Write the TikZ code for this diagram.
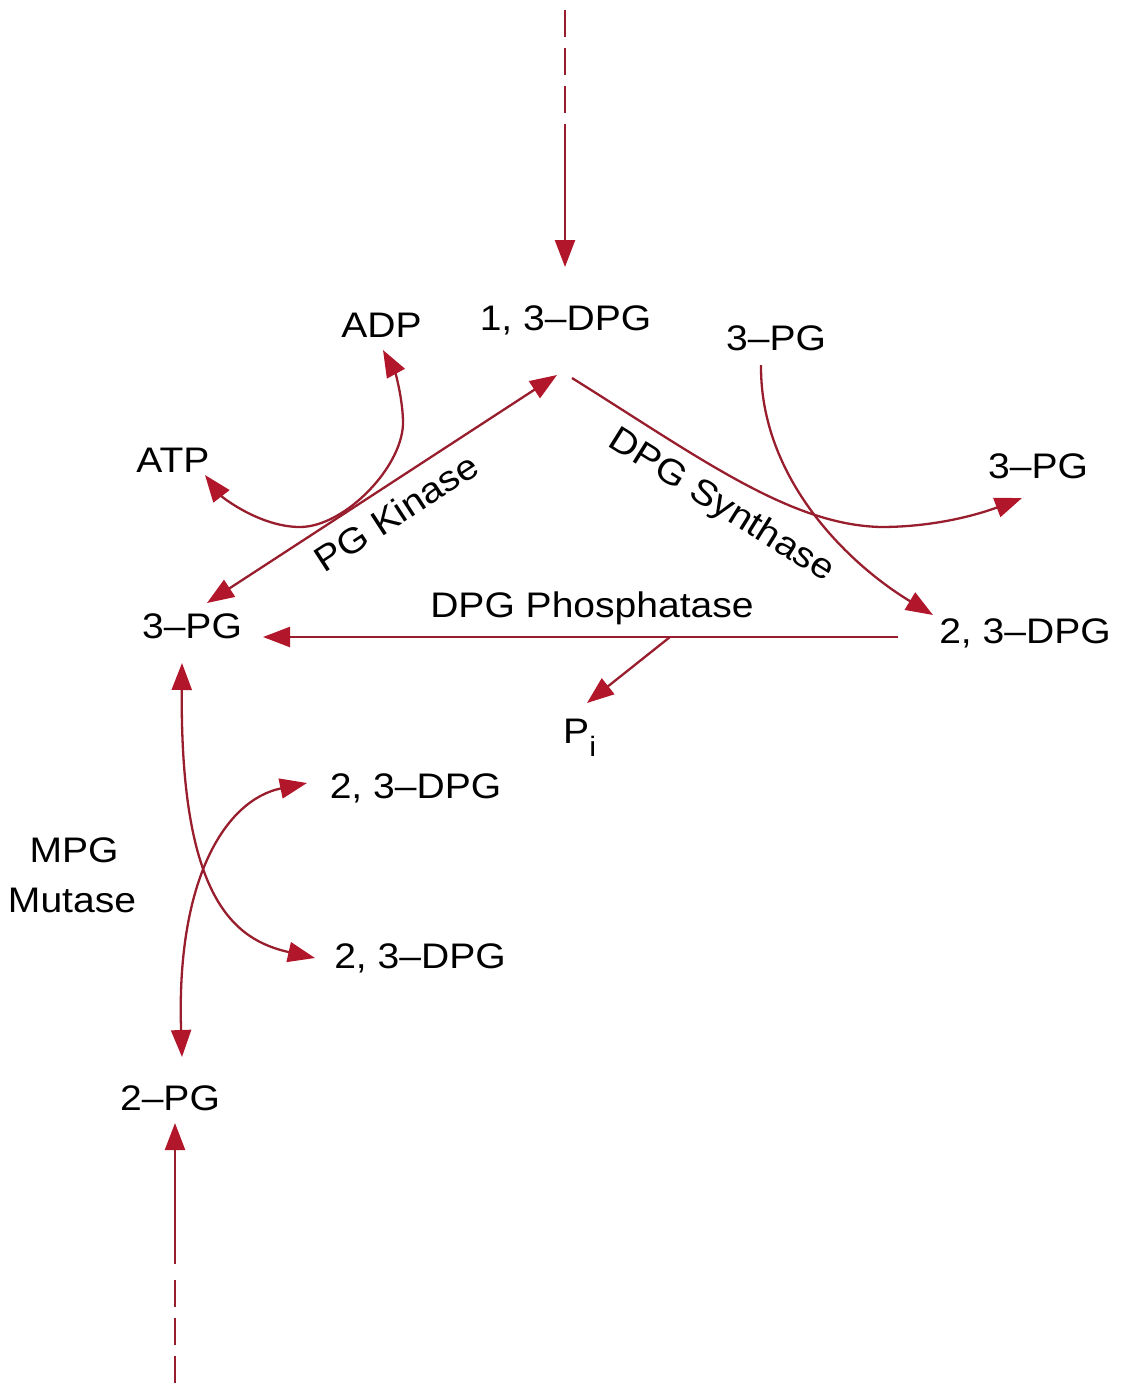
\documentclass[tikz,border=0pt]{standalone}
\usepackage{fontspec}
\setmainfont{Liberation Sans}[FakeStretch=1.1]
\usetikzlibrary{arrows.meta}
\definecolor{rxn}{RGB}{152,30,46}
\definecolor{tipred}{RGB}{178,22,42}
\begin{document}
\begin{tikzpicture}[x=1pt,y=-1pt,
  lbl/.style={inner sep=0pt, font=\fontsize{35.5}{40}\selectfont, text=black},
  rx/.style={draw=rxn, line width=2.3pt},
  dashline/.style={rx, dash pattern=on 27pt off 11pt},
  >={Triangle[length=27pt,width=20pt,color=tipred]}]
\useasboundingbox (0,0) rectangle (1121,1384);

% labels
\node[lbl, anchor=base] (dpg13) at (565.5,330) {1, 3–DPG};
\node[lbl, anchor=base] (adp) at (381.5,337) {ADP};
\node[lbl, anchor=base] (pg3top) at (776,350) {3–PG};
\node[lbl, anchor=base] (atp) at (173,472) {ATP};
\node[lbl, anchor=base] (pg3right) at (1038,478) {3–PG};
\node[lbl, anchor=base, rotate=33] (kinase) at (403,523) {PG Kinase};
\node[lbl, anchor=base, rotate=-32] (synthase) at (716,514) {DPG Synthase};
\node[lbl, anchor=base] (pg3left) at (192,638) {3–PG};
\node[lbl, anchor=base] (phosphatase) at (592,617) {DPG Phosphatase};
\node[lbl, anchor=base] (dpg23right) at (1025,643) {2, 3–DPG};
\node[lbl, anchor=base west] (pi) at (563,743) {P\raisebox{-13pt}{\fontsize{28}{30}\selectfont i}};
\node[lbl, anchor=base] (dpg23mid) at (415.5,798) {2, 3–DPG};
\node[lbl, anchor=base] (dpg23low) at (420,968) {2, 3–DPG};
\node[lbl, anchor=base] (mpg) at (74,862) {MPG};
\node[lbl, anchor=base] (mutase) at (72,912) {Mutase};
\node[lbl, anchor=base] (pg2) at (170,1110) {2–PG};

% connector end points
\coordinate (topStart) at (565,10);
\coordinate (topDash) at (565,113);
\coordinate (topSolid) at (565,124);
\coordinate (topTip) at (565,267);
\coordinate (kinTop) at (557,375);
\coordinate (kinBot) at (207,603);
\coordinate (atpTip) at (205,475);
\coordinate (atpLow) at (300,527);
\coordinate (adpMid) at (403,420);
\coordinate (adpTip) at (383,350);
\coordinate (synStart) at (572,378);
\coordinate (synBend) at (881,527);
\coordinate (pg3rTip) at (1022,498);
\coordinate (pg3tStart) at (761,365);
\coordinate (dpg23rTip) at (933,615);
\coordinate (phosR) at (898,637);
\coordinate (phosL) at (263,637);
\coordinate (phosBr) at (670,637);
\coordinate (piTip) at (587,703);
\coordinate (mutTop) at (182,663);
\coordinate (dpgLowTip) at (315,958);
\coordinate (mutBot) at (182,1057);
\coordinate (dpgMidTip) at (307,783);
\coordinate (botTip) at (175,1123);
\coordinate (botSolid) at (175,1264);
\coordinate (botDash) at (175,1277);
\coordinate (botEnd) at (175,1383);

% incoming from top
\draw[dashline] (topStart) -- (topDash);
\draw[rx,->] (topSolid) -- (topTip);

% PG kinase
\draw[rx,<->] (kinTop) -- (kinBot);
\draw[rx,<->] (atpTip) .. controls (222,497) and (260,527) .. (atpLow)
   .. controls (345,527) and (405,465) .. (adpMid)
   .. controls (402,395) and (395,372) .. (adpTip);

% DPG synthase
\draw[rx,->] (synStart) .. controls (700,458) and (790,525) .. (synBend)
   .. controls (940,527) and (985,512) .. (pg3rTip);
\draw[rx,->] (pg3tStart) .. controls (760,480) and (850,565) .. (dpg23rTip);

% DPG phosphatase
\draw[rx,->] (phosR) -- (phosL);
\draw[rx,->] (phosBr) -- (piTip);

% MPG mutase
\draw[rx,<->] (mutTop) .. controls (180,900) and (235,940) .. (dpgLowTip);
\draw[rx,<->] (mutBot) .. controls (176,880) and (225,800) .. (dpgMidTip);

% incoming from bottom
\draw[rx,->] (botSolid) -- (botTip);
\draw[dashline] (botEnd) -- (botDash);
\end{tikzpicture}
\end{document}
